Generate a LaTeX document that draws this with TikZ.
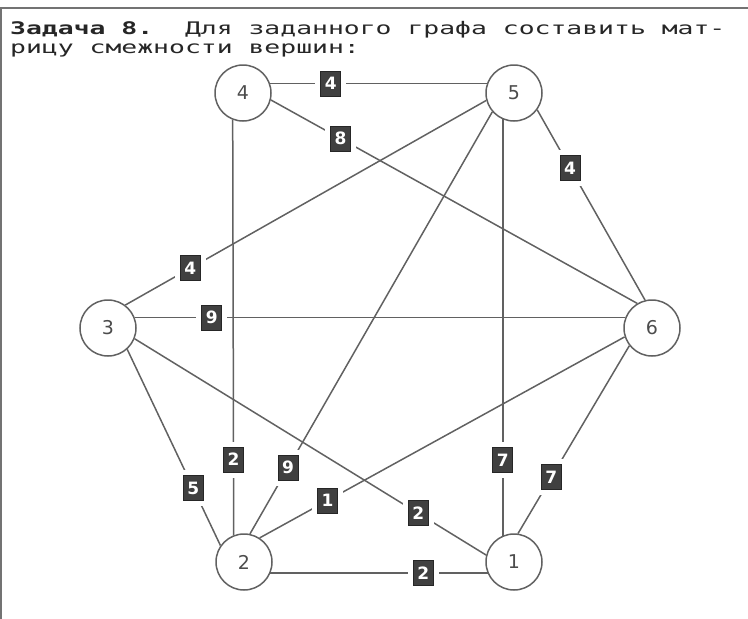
\documentclass[tikz,border=0pt]{standalone}
\usepackage{fontspec}
\usepackage{graphicx}
\newfontfamily\monofont{DejaVu Sans Mono}
\newfontfamily\digitfont{DejaVu Sans}
\begin{document}
\begin{tikzpicture}[x=1pt,y=-1pt,
  vertex/.style={circle,draw=black!62,line width=1.5pt,minimum size=56pt,inner sep=0pt,
    font=\digitfont\fontsize{19}{19}\selectfont,text=black!70},
  edge/.style={draw=black!62,line width=1.5pt},
  wt/.style={fill=black!75,draw=black!85,line width=0.8pt,text=white,
    font=\digitfont\bfseries\fontsize{17}{17}\selectfont,
    minimum width=20pt,minimum height=25pt,inner sep=0pt,
    preaction={draw=white,line width=11pt}},
  frameline/.style={draw=black!55,line width=1.5pt},
  title/.style={anchor=base west,inner sep=0pt,text=black!85}]
\useasboundingbox (0,0) rectangle (748,619);
\draw[frameline] (748,8) -- (1,8) -- (1,619);

\node[title] (t1) at (10,34) {\scalebox{1.6}[1.05]{\monofont\fontsize{16.5}{20}\selectfont\frenchspacing\textbf{Задача 8.}\ \ Для заданного графа составить мат-}};
\node[title] (t2) at (10,53) {\scalebox{1.6}[1.05]{\monofont\fontsize{16.5}{20}\selectfont\frenchspacing рицу смежности вершин:}};

\node[vertex] (n4) at (243,93) {4};
\node[vertex] (n5) at (514,93) {5};
\node[vertex] (n3) at (108,328) {3};
\node[vertex] (n6) at (652,328) {6};
\node[vertex] (n2) at (244,562) {2};
\node[vertex] (n1) at (514,562) {1};

\draw[edge] (n4.19) -- node[wt,pos=0.28]{4} (n5.161);
\draw[edge] (n4.-14) -- node[wt,pos=0.19]{8} (n6.121);
\draw[edge] (n5.-36) -- node[wt,pos=0.305]{4} (n6.104);
\draw[edge] (n3.53) -- node[wt,pos=0.18]{4} (n5.195);
\draw[edge] (n3.21) -- node[wt,pos=0.157]{9} (n6.159);
\draw[edge] (n4.-111) -- node[wt,pos=0.818]{2} (n2.111);
\draw[edge] (n5.221) -- node[wt,pos=0.843]{9} (n2.78);
\draw[edge] (n6.198) -- node[wt,pos=0.814]{1} (n2.57);
\draw[edge] (n3.-48) -- node[wt,pos=0.708]{5} (n2.145);
\draw[edge] (n3.-22) -- node[wt,pos=0.807]{2} (n1.166);
\draw[edge] (n2.-23) -- node[wt,pos=0.704]{2} (n1.-157);
\draw[edge] (n5.-113) -- node[wt,pos=0.818]{7} (n1.113);
\draw[edge] (n6.218) -- node[wt,pos=0.70]{7} (n1.82);
\end{tikzpicture}
\end{document}
